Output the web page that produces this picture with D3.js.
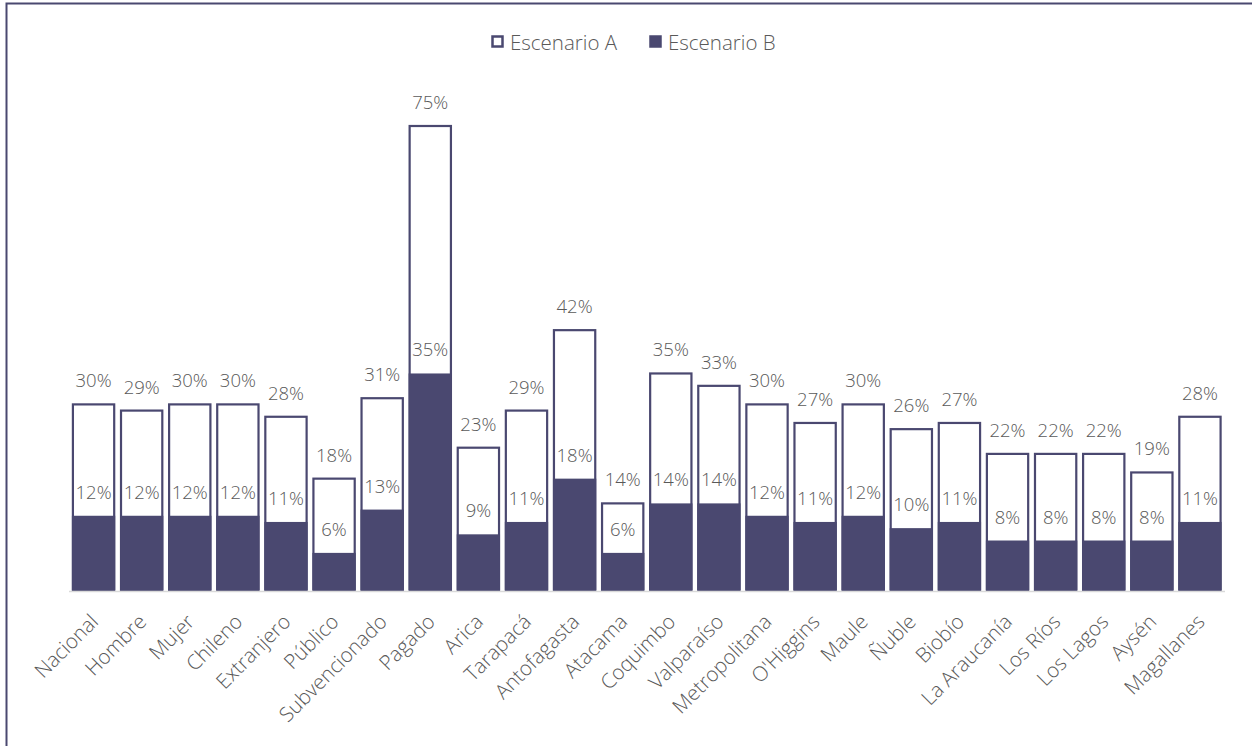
<!DOCTYPE html>
<html>
<head>
<meta charset="utf-8">
<script src="https://cdn.jsdelivr.net/npm/d3@7"></script>
<style>
  html, body { margin: 0; padding: 0; background: #fff; }
  svg { display: block; }
  text { font-family: "Open Sans", "Noto Sans", sans-serif; font-weight: 300; fill: #595959; }
</style>
</head>
<body>
<svg id="chart" width="1252" height="746"></svg>
<script>
// Categories (national, by sex, nationality, school type, region)
const categories = ["Nacional", "Hombre", "Mujer", "Chileno", "Extranjero", "Público",
  "Subvencionado", "Pagado", "Arica", "Tarapacá", "Antofagasta", "Atacama", "Coquimbo",
  "Valparaíso", "Metropolitana", "O'Higgins", "Maule", "Ñuble", "Biobío", "La Araucanía",
  "Los Ríos", "Los Lagos", "Aysén", "Magallanes"];

// Percent values for each scenario
const escenarioA = [30, 29, 30, 30, 28, 18, 31, 75, 23, 29, 42, 14, 35, 33, 30, 27, 30, 26, 27, 22, 22, 22, 19, 28];
const escenarioB = [12, 12, 12, 12, 11, 6, 13, 35, 9, 11, 18, 6, 14, 14, 12, 11, 12, 10, 11, 8, 8, 8, 8, 11];

const seriesNames = ["Escenario A", "Escenario B"];

const rows = categories.map((c, i) => ({ cat: c, a: escenarioA[i], b: escenarioB[i] }));

const barColor = "#4a4870";
const svg = d3.select("#chart");

// Outer frame (top and left edges visible)
svg.append("rect")
  .attr("x", 6.5).attr("y", 3.5)
  .attr("width", 1400).attr("height", 900)
  .attr("fill", "none").attr("stroke", barColor).attr("stroke-width", 2);

const x = d3.scaleBand().domain(categories).range([69.5, 1224]).paddingInner(0.1).paddingOuter(0.05);
const y = d3.scaleLinear().domain([0, 75]).range([590, 126]);

const g = svg.append("g");

// Scenario A: outlined bars
g.selectAll("rect.a").data(rows).join("rect")
  .attr("class", "a")
  .attr("x", d => x(d.cat) + 1)
  .attr("width", x.bandwidth() - 2)
  .attr("y", d => y(d.a))
  .attr("height", d => y(0) - y(d.a))
  .attr("fill", "#fff")
  .attr("stroke", barColor)
  .attr("stroke-width", 2.2);

// Scenario B: filled bars over A
g.selectAll("rect.b").data(rows).join("rect")
  .attr("class", "b")
  .attr("x", d => x(d.cat))
  .attr("width", x.bandwidth())
  .attr("y", d => y(d.b))
  .attr("height", d => y(0) - y(d.b))
  .attr("fill", barColor);

// Category axis line
svg.append("line")
  .attr("x1", 69).attr("x2", 1225)
  .attr("y1", 591.5).attr("y2", 591.5)
  .attr("stroke", "#d9d9d9").attr("stroke-width", 1.5);

// Value labels
const fmt = v => v + "%";
g.selectAll("text.la").data(rows).join("text")
  .attr("class", "la")
  .attr("x", d => x(d.cat) + x.bandwidth() / 2)
  .attr("y", d => y(d.a) - 17)
  .attr("text-anchor", "middle")
  .attr("font-size", 18.5)
  .text(d => fmt(d.a));

g.selectAll("text.lb").data(rows).join("text")
  .attr("class", "lb")
  .attr("x", d => x(d.cat) + x.bandwidth() / 2)
  .attr("y", d => y(d.b) - 17)
  .attr("text-anchor", "middle")
  .attr("font-size", 18.5)
  .text(d => fmt(d.b));

// Rotated category labels
svg.append("g").selectAll("text").data(categories).join("text")
  .attr("text-anchor", "end")
  .attr("font-size", 20.5)
  .attr("transform", c => `translate(${x(c) + x.bandwidth() / 2 + 6},${623}) rotate(-45)`)
  .text(c => c);

// Legend
const legend = svg.append("g");
const legendItems = [
  { name: seriesNames[0], x: 491, fill: "#fff", stroke: barColor },
  { name: seriesNames[1], x: 649, fill: barColor, stroke: barColor }
];
legendItems.forEach(it => {
  legend.append("rect")
    .attr("x", it.x + 1.5).attr("y", 36.5)
    .attr("width", 10).attr("height", 10)
    .attr("fill", it.fill).attr("stroke", it.stroke).attr("stroke-width", 2.5);
  legend.append("text")
    .attr("x", it.x + 19).attr("y", 49.5)
    .attr("font-size", 20.5)
    .text(it.name);
});
</script>
</body>
</html>
